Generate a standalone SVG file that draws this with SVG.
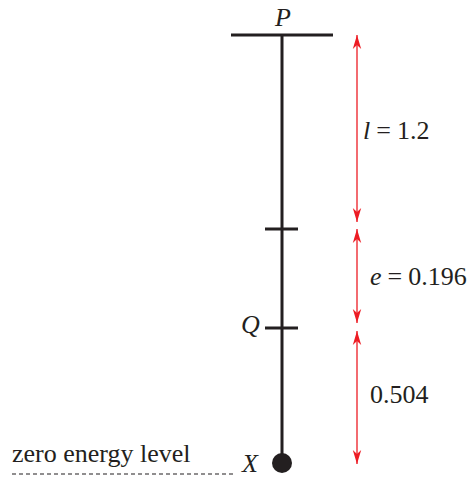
<svg xmlns="http://www.w3.org/2000/svg" width="473" height="477" viewBox="0 0 473 477">
<style>
.blk{stroke:#231f20;stroke-width:3;fill:none}
.red{stroke:#ed1c24;stroke-width:1.3;fill:none}
text{font-family:"Liberation Serif",serif;font-size:26px;fill:#231f20}
.it{font-style:italic}
</style>
<defs>
<marker id="ah" viewBox="0 0 14 10" refX="14" refY="5" markerWidth="14" markerHeight="10" markerUnits="userSpaceOnUse" orient="auto">
<path d="M0,0.8 L14,5 L0,9.2 L4,5 Z" fill="#ed1c24"/>
</marker>
</defs>
<g id="pendulum">
<line class="blk" x1="231" y1="35" x2="333" y2="35"/>
<line class="blk" x1="282" y1="35" x2="282" y2="460"/>
<circle cx="282" cy="463" r="10" fill="#231f20"/>
</g>
<g id="tick1"><line class="blk" x1="265" y1="229" x2="298" y2="229"/></g>
<g id="tickQ"><line class="blk" x1="265" y1="328" x2="298" y2="328"/></g>
<g id="connectors">
<line class="red" x1="357" y1="129" x2="357" y2="35" marker-end="url(#ah)"/>
<line class="red" x1="357" y1="129" x2="357" y2="222" marker-end="url(#ah)"/>
<line class="red" x1="357" y1="278" x2="357" y2="229" marker-end="url(#ah)"/>
<line class="red" x1="357" y1="278" x2="357" y2="323" marker-end="url(#ah)"/>
<line class="red" x1="357" y1="398" x2="357" y2="331" marker-end="url(#ah)"/>
<line class="red" x1="357" y1="398" x2="357" y2="464" marker-end="url(#ah)"/>
<line x1="12" y1="474" x2="236" y2="474" stroke="#231f20" stroke-width="1.2" stroke-dasharray="4,3"/>
</g>
<g id="labels">
<text class="it" x="275" y="26">P</text>
<text x="363" y="139"><tspan class="it">l</tspan><tspan dx="6">=</tspan><tspan dx="6">1.2</tspan></text>
<text x="370" y="285"><tspan class="it">e</tspan><tspan dx="6">=</tspan><tspan dx="6">0.196</tspan></text>
<text x="370" y="403">0.504</text>
<text class="it" x="241" y="333">Q</text>
<text class="it" x="242" y="472">X</text>
<text x="12" y="462">zero energy level</text>
</g>
</svg>
